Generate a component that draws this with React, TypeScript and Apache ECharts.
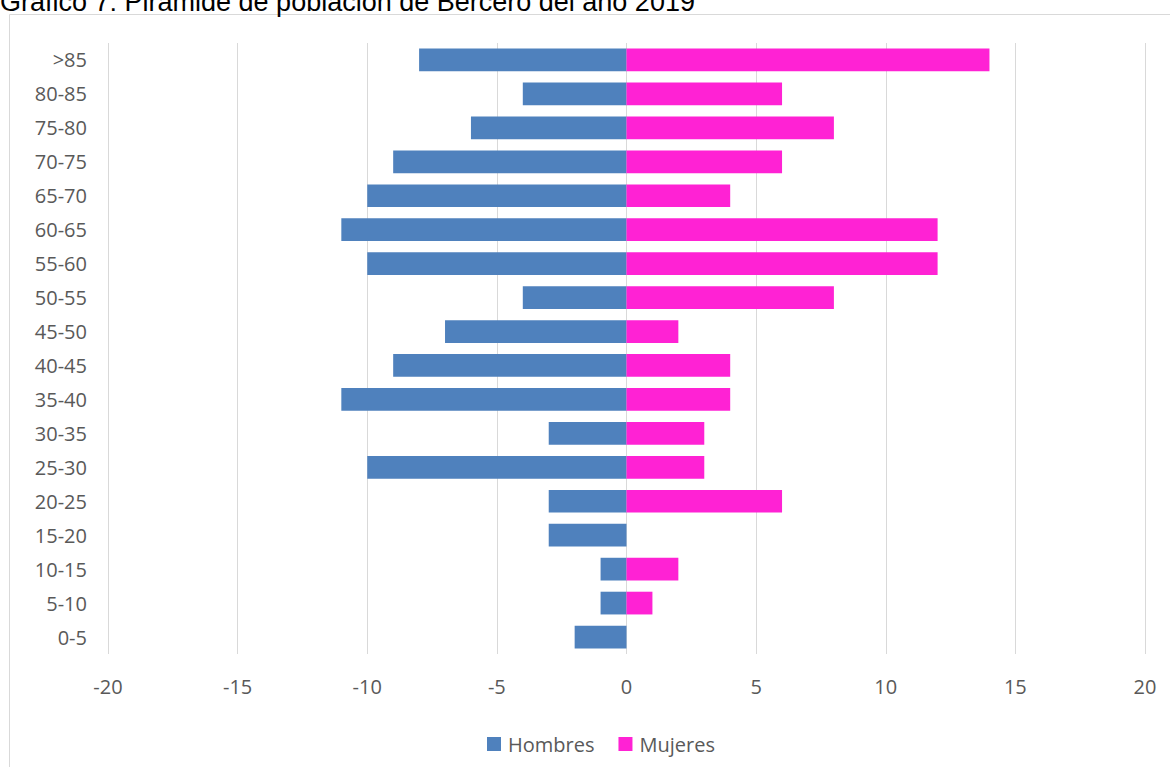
import React, { useEffect, useRef } from "react";
import * as echarts from "echarts";

const categories = ["0-5", "5-10", "10-15", "15-20", "20-25", "25-30", "30-35", "35-40", "40-45", "45-50", "50-55", "55-60", "60-65", "65-70", "70-75", "75-80", "80-85", ">85"];
const hombres = [-2, -1, -1, -3, -3, -10, -3, -11, -9, -7, -4, -10, -11, -10, -9, -6, -4, -8];
const mujeres = [0, 1, 2, 0, 6, 3, 3, 4, 4, 2, 8, 12, 12, 4, 6, 8, 6, 14];
const titleText = "Gráfico 7: Pirámide de población de Bercero del año 2019";

export default function App() {
  const ref = useRef<HTMLDivElement>(null);
  useEffect(() => {
    document.body.style.margin = "0";
    const chart = echarts.init(ref.current!, null, { renderer: "svg" });
    const font = "'Open Sans', sans-serif";
    chart.setOption({
      animation: false,
      backgroundColor: "#ffffff",
      graphic: [
        {
          type: "rect",
          shape: { x: 9.5, y: 14.5, width: 1200, height: 800 },
          style: { fill: "none", stroke: "#d9d9d9", lineWidth: 1 },
          silent: true,
        },
        {
          type: "text",
          x: 0,
          y: 15,
          style: {
            text: titleText,
            font: "27px 'Liberation Sans', Arial, sans-serif",
            fill: "#000000",
            verticalAlign: "bottom",
          },
          silent: true,
        },
      ],
      grid: { left: 108, right: 25, top: 43, bottom: 113 },
      legend: {
        left: 482,
        top: 729,
        itemWidth: 14,
        itemHeight: 14,
        itemGap: 24,
        icon: "rect",
        textStyle: { fontFamily: font, fontSize: 20, color: "#595959", padding: [0, 0, 0, 2] },
        data: ["Hombres", "Mujeres"],
      },
      xAxis: {
        type: "value",
        min: -20,
        max: 20,
        interval: 5,
        axisLine: { show: false },
        axisTick: { show: false },
        splitLine: { show: true, lineStyle: { color: "#d9d9d9", width: 1 } },
        axisLabel: { fontFamily: font, fontSize: 20, color: "#595959", margin: 22 },
      },
      yAxis: {
        type: "category",
        data: categories,
        axisLine: { show: false },
        axisTick: { show: false },
        splitLine: { show: false },
        axisLabel: { fontFamily: font, fontSize: 20, color: "#595959", margin: 21 },
      },
      series: [
        {
          name: "Hombres",
          type: "bar",
          stack: "total",
          data: hombres,
          barCategoryGap: "33%",
          itemStyle: { color: "#4f81bd" },
        },
        {
          name: "Mujeres",
          type: "bar",
          stack: "total",
          data: mujeres,
          barCategoryGap: "33%",
          itemStyle: { color: "#ff22d4" },
        },
      ],
    });
    return () => chart.dispose();
  }, []);
  return <div ref={ref} style={{ width: 1170, height: 767 }} />;
}
